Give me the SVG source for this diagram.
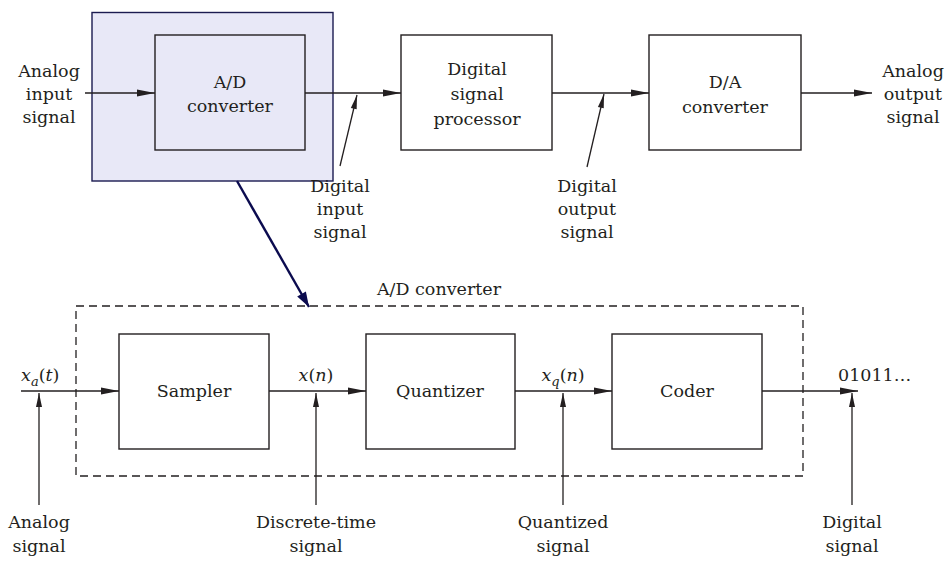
<svg xmlns="http://www.w3.org/2000/svg" width="952" height="565" viewBox="0 0 952 565">
<style>
text{font-family:'DejaVu Serif',serif;font-size:17.5px;fill:#231f20;text-anchor:middle}
.box{fill:none;stroke:#231f20;stroke-width:1.4}
.ln{stroke:#231f20;stroke-width:1.3;fill:none}
.it{font-style:italic}
.st{text-anchor:start}
</style>
<defs>
<marker id="ah" markerUnits="userSpaceOnUse" markerWidth="22" markerHeight="10" viewBox="-20 -5 21 10" refX="0" refY="0" orient="auto">
<path d="M0,0 L-18,-3.6 L-18,3.6 Z" fill="#231f20"/>
</marker>
<marker id="ahs" markerUnits="userSpaceOnUse" markerWidth="18" markerHeight="8" viewBox="-16 -4 17 8" refX="0" refY="0" orient="auto">
<path d="M0,0 L-14,-3 L-14,3 Z" fill="#231f20"/>
</marker>
<marker id="ahn" markerUnits="userSpaceOnUse" markerWidth="20" markerHeight="12" viewBox="-18 -6 19 12" refX="0" refY="0" orient="auto">
<path d="M0,0 L-15,-5 L-15,5 Z" fill="#0b0b4f"/>
</marker>
</defs>
<rect width="952" height="565" fill="#ffffff"/>

<g id="highlight">
<rect x="92" y="12.5" width="241" height="168.5" fill="#e8e8f7" stroke="#1b1b50" stroke-width="1.4"/>
</g>

<g id="ad-top">
<rect class="box" x="155" y="35" width="150" height="115"/>
<text x="230" y="88">A/D</text>
<text x="230" y="112">converter</text>
</g>
<g id="dsp">
<rect class="box" x="401" y="35" width="151" height="115"/>
<text x="477" y="75">Digital</text>
<text x="477" y="100">signal</text>
<text x="477" y="125">processor</text>
</g>
<g id="da">
<rect class="box" x="649" y="35" width="152" height="115"/>
<text x="725" y="88">D/A</text>
<text x="725" y="113">converter</text>
</g>

<g id="lbl-analog-in">
<text x="49" y="77">Analog</text>
<text x="49" y="100">input</text>
<text x="49" y="123">signal</text>
</g>
<g id="lbl-analog-out">
<text x="913" y="77">Analog</text>
<text x="913" y="100">output</text>
<text x="913" y="123">signal</text>
</g>
<g id="lbl-digital-in">
<text x="340" y="192">Digital</text>
<text x="340" y="215">input</text>
<text x="340" y="238">signal</text>
</g>
<g id="lbl-digital-out">
<text x="587" y="192">Digital</text>
<text x="587" y="215">output</text>
<text x="587" y="238">signal</text>
</g>

<g id="ad-detail">
<rect x="76" y="306" width="727" height="170" fill="none" stroke="#231f20" stroke-width="1.3" stroke-dasharray="8,5"/>
<text x="439" y="295">A/D converter</text>
</g>
<g id="sampler">
<rect class="box" x="119" y="334" width="150" height="115"/>
<text x="194" y="397">Sampler</text>
</g>
<g id="quantizer">
<rect class="box" x="366" y="334" width="149" height="115"/>
<text x="440" y="397">Quantizer</text>
</g>
<g id="coder">
<rect class="box" x="612" y="334" width="150" height="115"/>
<text x="687" y="397">Coder</text>
</g>

<g id="signal-labels">
<text class="st" x="21" y="381"><tspan class="it">x</tspan><tspan class="it" font-size="13" dy="5">a</tspan><tspan dy="-5">(</tspan><tspan class="it">t</tspan>)</text>
<text x="316" y="381"><tspan class="it">x</tspan>(<tspan class="it">n</tspan>)</text>
<text x="563" y="381"><tspan class="it">x</tspan><tspan class="it" font-size="13" dy="5">q</tspan><tspan dy="-5">(</tspan><tspan class="it">n</tspan>)</text>
<text class="st" x="838" y="381">01011…</text>
</g>

<g id="bottom-labels">
<text x="39" y="528">Analog</text>
<text x="39" y="552">signal</text>
<text x="316" y="528">Discrete-time</text>
<text x="316" y="552">signal</text>
<text x="563" y="528">Quantized</text>
<text x="563" y="552">signal</text>
<text x="852" y="528">Digital</text>
<text x="852" y="552">signal</text>
</g>

<g id="connectors">
<line class="ln" x1="85" y1="93" x2="155" y2="93" marker-end="url(#ah)"/>
<line class="ln" x1="305" y1="93" x2="401" y2="93" marker-end="url(#ah)"/>
<line class="ln" x1="552" y1="93" x2="649" y2="93" marker-end="url(#ah)"/>
<line class="ln" x1="801" y1="93" x2="872" y2="93" marker-end="url(#ah)"/>
<line class="ln" x1="340" y1="166" x2="357" y2="95" marker-end="url(#ahs)"/>
<line class="ln" x1="587" y1="167" x2="604" y2="94" marker-end="url(#ahs)"/>
<line x1="237" y1="181" x2="309" y2="307" stroke="#0b0b4f" stroke-width="2.4" marker-end="url(#ahn)"/>
<line class="ln" x1="21" y1="391" x2="119" y2="391" marker-end="url(#ah)"/>
<line class="ln" x1="269" y1="391" x2="366" y2="391" marker-end="url(#ah)"/>
<line class="ln" x1="515" y1="391" x2="612" y2="391" marker-end="url(#ah)"/>
<line class="ln" x1="762" y1="391" x2="858" y2="391" marker-end="url(#ah)"/>
<line class="ln" x1="39" y1="505" x2="39" y2="393" marker-end="url(#ahs)"/>
<line class="ln" x1="316" y1="505" x2="316" y2="393" marker-end="url(#ahs)"/>
<line class="ln" x1="563" y1="505" x2="563" y2="393" marker-end="url(#ahs)"/>
<line class="ln" x1="852" y1="505" x2="852" y2="393" marker-end="url(#ahs)"/>
</g>
</svg>
